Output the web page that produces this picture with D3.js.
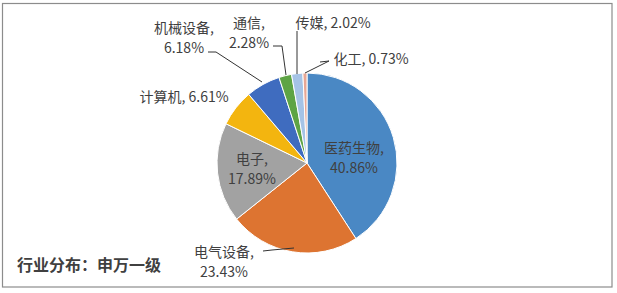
<!DOCTYPE html>
<html>
<head>
<meta charset="utf-8">
<script src="https://cdn.jsdelivr.net/npm/d3@7/dist/d3.min.js"></script>
<style>
  html, body { margin: 0; padding: 0; background: #fff; }
  svg { display: block; }
  text { font-family: "Noto Sans CJK SC", "Noto Sans", sans-serif; fill: #404040; }
</style>
</head>
<body>
<svg id="chart" width="617" height="293"></svg>
<script>
// Industry breakdown (Shenwan level-1), percent of holdings
const categories = ["医药生物", "电气设备", "电子", "计算机", "机械设备", "通信", "传媒", "化工"];
const shares = [40.86, 23.43, 17.89, 6.61, 6.18, 2.28, 2.02, 0.73];
const sliceColors = ["#4a88c4", "#dd7431", "#a2a2a2", "#f3b50f", "#3f6cbf", "#5ea445", "#a5c3e6", "#e7a795"];
const title = "行业分布：申万一级";

// label layout: [category index, line texts, anchor x, first baseline y, leader polyline or null]
const labelLayout = [
  [0, ["医药生物,", "40.86%"], 354, 153, null],
  [1, ["电气设备,", "23.43%"], 224, 257, [[263, 251], [272, 250], [294, 248]]],
  [2, ["电子,", "17.89%"], 252, 164, null],
  [3, ["计算机, 6.61%"], 184, 102, null],
  [4, ["机械设备,", "6.18%"], 184, 33, [[208, 52], [216, 52], [262, 82]]],
  [5, ["通信,", "2.28%"], 249, 28, [[273, 46], [282, 46], [286, 75]]],
  [6, ["传媒, 2.02%"], 333, 28, [[297, 31], [297, 74]]],
  [7, ["化工, 0.73%"], 371, 64, [[320, 62], [329, 61], [305, 73]]]
];

const svg = d3.select("#chart");

// outer frame
svg.append("rect")
  .attr("x", 2.5).attr("y", 3.5)
  .attr("width", 609.5).attr("height", 283.5)
  .attr("fill", "none").attr("stroke", "#8c8c8c").attr("stroke-width", 1.2);

const cx = 307, cy = 163, radius = 90;

const pie = d3.pie().sort(null).value(d => d)(shares);
const arc = d3.arc().innerRadius(0).outerRadius(radius);

const g = svg.append("g").attr("transform", `translate(${cx},${cy})`);
g.selectAll("path")
  .data(pie)
  .join("path")
  .attr("d", arc)
  .attr("fill", (d, i) => sliceColors[i])
  .attr("stroke", "#fff")
  .attr("stroke-width", 1);

// leader lines
const line = d3.line();
svg.selectAll("path.leader")
  .data(labelLayout.filter(d => d[4]))
  .join("path")
  .attr("class", "leader")
  .attr("d", d => line(d[4]))
  .attr("fill", "none")
  .attr("stroke", "#333")
  .attr("stroke-width", 1);

// data labels
labelLayout.forEach(([idx, lines, x, y]) => {
  const t = svg.append("text")
    .attr("x", x).attr("y", y)
    .attr("text-anchor", "middle")
    .style("font-size", "14px")
    .attr("fill", idx === 0 ? "#1f2d4a" : "#404040");
  lines.forEach((s, k) => {
    t.append("tspan").attr("x", x).attr("dy", k === 0 ? 0 : 20).text(s);
  });
});

// chart caption
svg.append("text")
  .attr("x", 17).attr("y", 271)
  .style("font-size", "16px")
  .style("font-weight", "bold")
  .attr("fill", "#333")
  .text(title);
</script>
</body>
</html>
